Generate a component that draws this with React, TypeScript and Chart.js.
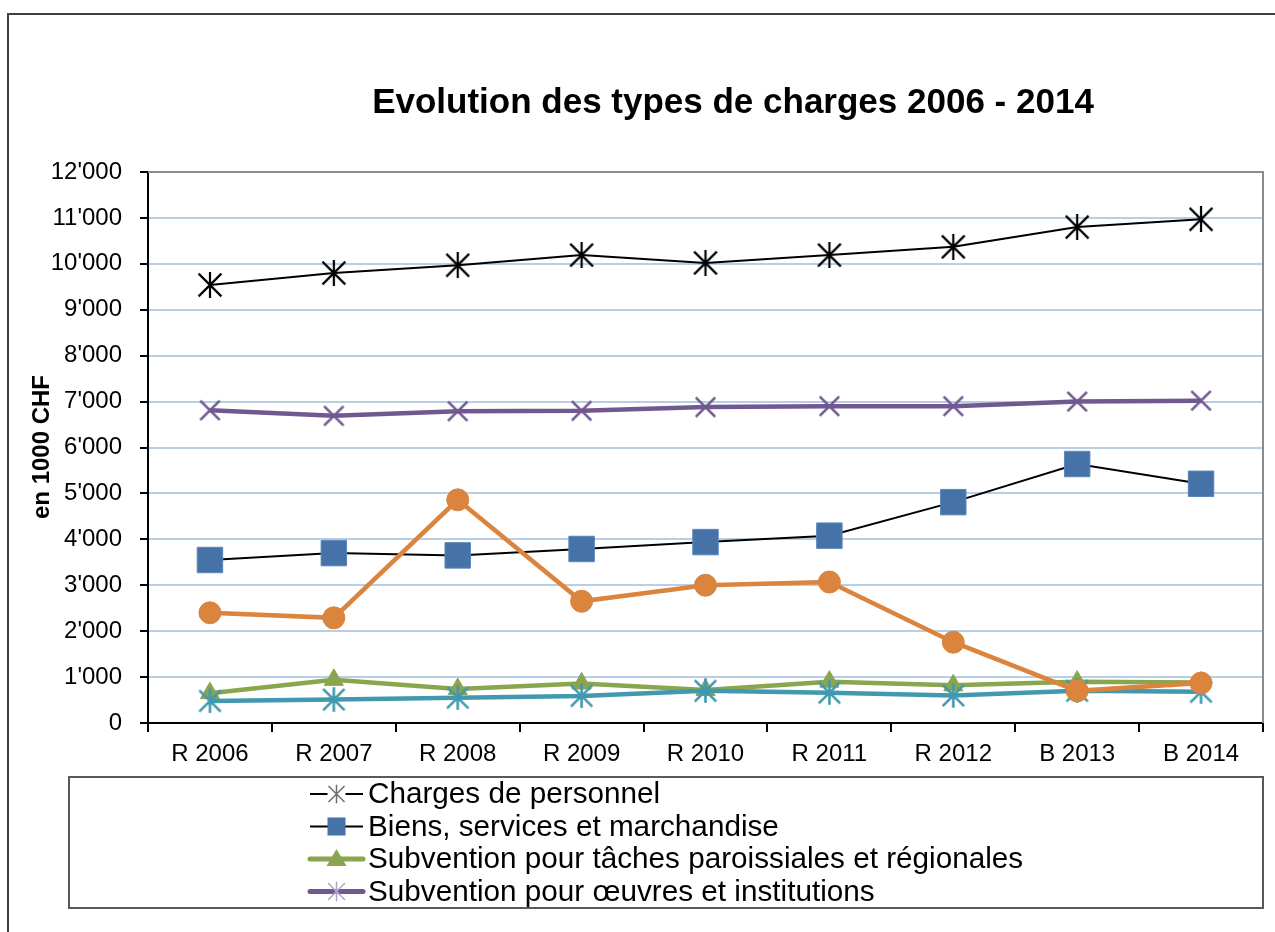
import React, { useEffect, useRef } from 'react';
import { Chart, registerables } from 'chart.js';

Chart.register(...registerables);

const categories = ['R 2006', 'R 2007', 'R 2008', 'R 2009', 'R 2010', 'R 2011', 'R 2012', 'B 2013', 'B 2014'];
const chargesPersonnel = [9540, 9800, 9970, 10190, 10020, 10190, 10370, 10800, 10970];
const biensServices = [3550, 3700, 3650, 3790, 3940, 4080, 4810, 5640, 5210];
const subvParoissiales = [650, 940, 740, 860, 720, 900, 820, 900, 880];
const subvOeuvres = [6810, 6690, 6790, 6800, 6880, 6900, 6900, 7000, 7020];
const amortissements = [2400, 2290, 4860, 2650, 3000, 3070, 1760, 700, 870];
const autresCharges = [480, 510, 550, 590, 700, 660, 600, 700, 680];
const yTickValues = [0, 1000, 2000, 3000, 4000, 5000, 6000, 7000, 8000, 9000, 10000, 11000, 12000];
const titleText = 'Evolution des types de charges 2006 - 2014';
const yTitleText = 'en 1000 CHF';
const legendLabels = [
  'Charges de personnel',
  'Biens, services et marchandise',
  'Subvention pour tâches paroissiales et régionales',
  'Subvention pour œuvres et institutions',
];

const FONT = "'Liberation Sans', Arial, sans-serif";
const BLUE = '#4572A7';
const ORANGE = '#DB843D';
const GREEN = '#89A54E';
const PURPLE = '#71588F';
const TEAL = '#4198AF';

function fmt(v: number): string {
  if (v === 0) return '0';
  const th = Math.floor(v / 1000);
  const rest = String(v % 1000).padStart(3, '0');
  return `${th}'${rest}`;
}

function makeStar(color: string, size: number, lw: number, vertical: boolean): HTMLCanvasElement {
  const c = document.createElement('canvas');
  c.width = size;
  c.height = size;
  const g = c.getContext('2d')!;
  g.strokeStyle = color;
  g.lineWidth = lw;
  const h = size / 2;
  const r = h - lw / 2 - 0.5;
  g.beginPath();
  g.moveTo(h - r, h - r);
  g.lineTo(h + r, h + r);
  g.moveTo(h + r, h - r);
  g.lineTo(h - r, h + r);
  if (vertical) {
    g.moveTo(h, h - r * 1.15);
    g.lineTo(h, h + r * 1.15);
  }
  g.stroke();
  return c;
}

function drawStarAt(ctx: CanvasRenderingContext2D, x: number, y: number, r: number, color: string, lw: number) {
  ctx.save();
  ctx.strokeStyle = color;
  ctx.lineWidth = lw;
  ctx.beginPath();
  ctx.moveTo(x - r, y - r);
  ctx.lineTo(x + r, y + r);
  ctx.moveTo(x + r, y - r);
  ctx.lineTo(x - r, y + r);
  ctx.moveTo(x, y - r * 1.15);
  ctx.lineTo(x, y + r * 1.15);
  ctx.stroke();
  ctx.restore();
}

const decorPlugin = {
  id: 'decor',
  beforeDraw(chart: any) {
    const ctx = chart.ctx as CanvasRenderingContext2D;
    ctx.save();
    ctx.fillStyle = '#ffffff';
    ctx.fillRect(0, 0, chart.width, chart.height);
    ctx.strokeStyle = '#404040';
    ctx.lineWidth = 2;
    ctx.beginPath();
    ctx.moveTo(8, chart.height);
    ctx.lineTo(8, 14);
    ctx.lineTo(chart.width, 14);
    ctx.stroke();
    ctx.restore();
  },
  beforeDatasetsDraw(chart: any) {
    const ctx = chart.ctx as CanvasRenderingContext2D;
    const a = chart.chartArea;
    ctx.save();
    ctx.strokeStyle = '#8C8C8C';
    ctx.lineWidth = 2;
    ctx.beginPath();
    ctx.moveTo(a.left, a.top);
    ctx.lineTo(a.right, a.top);
    ctx.lineTo(a.right, a.bottom);
    ctx.stroke();
    ctx.restore();
  },
  afterDraw(chart: any) {
    const ctx = chart.ctx as CanvasRenderingContext2D;
    ctx.save();
    ctx.fillStyle = '#000';
    ctx.font = `bold 35px ${FONT}`;
    ctx.textAlign = 'center';
    ctx.textBaseline = 'middle';
    ctx.fillText(titleText, 733, 103);
    ctx.save();
    ctx.translate(42, 447);
    ctx.rotate(-Math.PI / 2);
    ctx.font = `bold 24px ${FONT}`;
    ctx.fillText(yTitleText, 0, 0);
    ctx.restore();

    const lx = 69, ly = 777, lw = 1263 - 69, lh = 908 - 777;
    ctx.strokeStyle = '#595959';
    ctx.lineWidth = 2;
    ctx.strokeRect(lx, ly, lw, lh);
    const rowY0 = 794;
    const step = 32.5;
    const x1 = 310, x2 = 363, mx = 336.5;
    ctx.font = `29.7px ${FONT}`;
    ctx.textAlign = 'left';
    ctx.textBaseline = 'middle';
    for (let i = 0; i < legendLabels.length; i++) {
      const y = rowY0 + i * step;
      ctx.save();
      if (i === 0) {
        ctx.strokeStyle = '#000';
        ctx.lineWidth = 2;
        ctx.beginPath(); ctx.moveTo(x1, y); ctx.lineTo(x2, y); ctx.stroke();
        ctx.fillStyle = '#fff';
        ctx.fillRect(mx - 9, y - 9, 18, 18);
        drawStarAt(ctx, mx, y, 8, '#6E6E6E', 1.5);
      } else if (i === 1) {
        ctx.strokeStyle = '#000';
        ctx.lineWidth = 2;
        ctx.beginPath(); ctx.moveTo(x1, y); ctx.lineTo(x2, y); ctx.stroke();
        ctx.fillStyle = BLUE;
        ctx.fillRect(mx - 9, y - 9, 18, 18);
      } else if (i === 2) {
        ctx.strokeStyle = GREEN;
        ctx.lineWidth = 5;
        ctx.lineCap = 'round';
        ctx.beginPath(); ctx.moveTo(x1, y); ctx.lineTo(x2, y); ctx.stroke();
        ctx.fillStyle = GREEN;
        ctx.beginPath();
        ctx.moveTo(mx, y - 10);
        ctx.lineTo(mx + 10, y + 7);
        ctx.lineTo(mx - 10, y + 7);
        ctx.closePath();
        ctx.fill();
      } else {
        ctx.strokeStyle = PURPLE;
        ctx.lineWidth = 5;
        ctx.lineCap = 'round';
        ctx.beginPath(); ctx.moveTo(x1, y); ctx.lineTo(x2, y); ctx.stroke();
        drawStarAt(ctx, mx, y, 8, '#B3A2C7', 1.5);
      }
      ctx.restore();
      ctx.fillStyle = '#000';
      ctx.fillText(legendLabels[i], 368, y + 1);
    }
    ctx.restore();
  },
};

export default function App() {
  const ref = useRef<HTMLCanvasElement | null>(null);

  useEffect(() => {
    if (!ref.current) return;
    Chart.defaults.font.family = FONT;
    const blackStar = makeStar('#000000', 26, 2.2, true);
    const tealStar = makeStar(TEAL, 25, 2.6, true);
    const purpleX = makeStar(PURPLE, 23, 2.6, false);

    const chart = new Chart(ref.current, {
      type: 'line',
      data: {
        labels: categories,
        datasets: [
          {
            label: 'Charges de personnel',
            data: chargesPersonnel,
            borderColor: '#000000',
            borderWidth: 2,
            pointStyle: blackStar as any,
            order: 5,
          },
          {
            label: 'Biens, services et marchandise',
            data: biensServices,
            borderColor: '#000000',
            borderWidth: 2,
            pointStyle: 'rect',
            pointRadius: 18,
            pointBackgroundColor: BLUE,
            pointBorderColor: '#5A86BA',
            pointBorderWidth: 1,
            order: 4,
          },
          {
            label: 'Subvention pour tâches paroissiales et régionales',
            data: subvParoissiales,
            borderColor: GREEN,
            borderWidth: 4.5,
            pointStyle: 'triangle',
            pointRadius: 11,
            pointBackgroundColor: GREEN,
            pointBorderColor: GREEN,
            pointBorderWidth: 1,
            order: 2,
          },
          {
            label: 'Subvention pour œuvres et institutions',
            data: subvOeuvres,
            borderColor: PURPLE,
            borderWidth: 4.5,
            pointStyle: purpleX as any,
            order: 3,
          },
          {
            label: 'Amortissements',
            data: amortissements,
            borderColor: ORANGE,
            borderWidth: 4.5,
            pointStyle: 'circle',
            pointRadius: 11,
            pointBackgroundColor: ORANGE,
            pointBorderColor: ORANGE,
            pointBorderWidth: 1,
            order: 0,
          },
          {
            label: 'Autres charges',
            data: autresCharges,
            borderColor: TEAL,
            borderWidth: 4.5,
            pointStyle: tealStar as any,
            order: 1,
          },
        ],
      },
      options: {
        responsive: false,
        animation: false,
        devicePixelRatio: 1,
        layout: { autoPadding: false, padding: { top: 172, left: 0, right: 12, bottom: 932 - 723 - 50 } },
        elements: { line: { tension: 0 } },
        plugins: {
          legend: { display: false },
          title: { display: false },
          tooltip: { enabled: false },
        },
        scales: {
          x: {
            type: 'category',
            offset: true,
            afterFit: (s: any) => {
              s.height = 50;
              s.paddingLeft = 0;
              s.paddingRight = 0;
            },
            grid: {
              offset: true,
              drawOnChartArea: false,
              drawTicks: true,
              tickLength: 9,
              tickColor: '#000',
              lineWidth: 2,
            },
            border: { display: true, color: '#000', width: 2 },
            ticks: {
              color: '#000',
              font: { size: 24, family: FONT },
              padding: 8,
              maxRotation: 0,
              autoSkip: false,
            },
          },
          y: {
            min: 0,
            max: 12000,
            afterFit: (s: any) => {
              s.width = 148;
              s.paddingTop = 0;
              s.paddingBottom = 0;
            },
            afterBuildTicks: (s: any) => { s.ticks = yTickValues.map((v) => ({ value: v })); },
            grid: {
              color: (c: any) => (c.tick && c.tick.value === 12000 ? '#8C8C8C' : '#B9CDE5'),
              lineWidth: 2,
              tickLength: 8,
              tickColor: '#000',
              drawTicks: true,
            },
            border: { display: true, color: '#000', width: 2 },
            ticks: {
              color: '#000',
              font: { size: 24, family: FONT },
              padding: 18,
              callback: (v: any) => fmt(Number(v)),
            },
          },
        },
      },
      plugins: [decorPlugin],
    });
    return () => chart.destroy();
  }, []);

  return (
    <div style={{ position: 'fixed', left: 0, top: 0, width: 1275, height: 932, background: '#fff' }}>
      <canvas ref={ref} width={1275} height={932} style={{ width: 1275, height: 932, display: 'block' }} />
    </div>
  );
}
